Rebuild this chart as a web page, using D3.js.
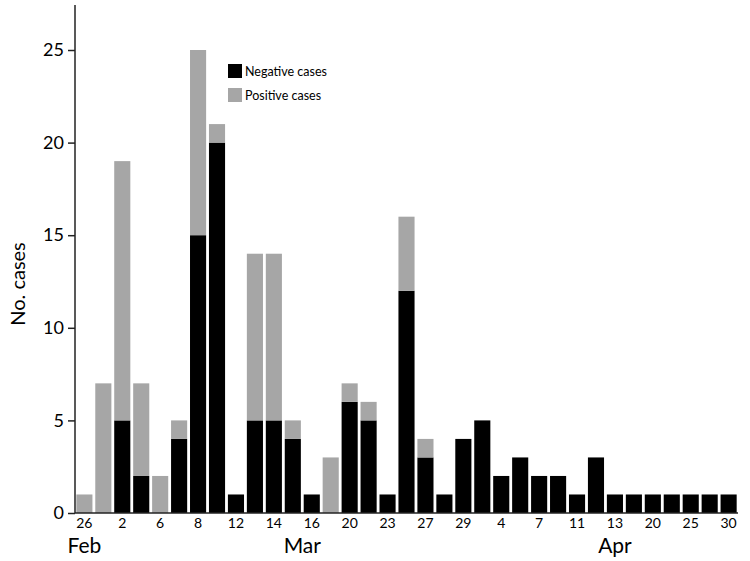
<!DOCTYPE html>
<html>
<head>
<meta charset="utf-8">
<script src="https://cdn.jsdelivr.net/npm/d3@7"></script>
<style>
  body { margin: 0; background: #fff; }
  svg { display: block; font-family: Lato, "Open Sans", sans-serif; }
</style>
</head>
<body>
<svg id="chart" width="750" height="561"></svg>
<script>
// Day labels for each bar (empty = unlabeled bar)
const dayLabels = ["26","","2","","6","","8","","12","","14","","16","","20","","23","","27","","29","","4","","7","","11","","13","","20","","25","","30"];
const negativeCases = [0,0,5,2,0,4,15,20,1,5,5,4,1,0,6,5,1,12,3,1,4,5,2,3,2,2,1,3,1,1,1,1,1,1,1];
const positiveCases = [1,7,14,5,2,1,10,1,0,9,9,1,0,3,1,1,0,4,1,0,0,0,0,0,0,0,0,0,0,0,0,0,0,0,0];
const yTicks = [0,5,10,15,20,25];
const months = [{label:"Feb", at:0, shift:0}, {label:"Mar", at:11, shift:0.5}, {label:"Apr", at:28, shift:0}];
const legendItems = [{label:"Negative cases", color:"#000000"}, {label:"Positive cases", color:"#a6a6a6"}];

const svg = d3.select("#chart");
const x0 = 75, x1 = 738, yBase = 513, yTop = 5;

const x = d3.scaleBand().domain(d3.range(dayLabels.length)).range([x0, x1]).paddingInner(0.15).paddingOuter(0.07);
const y = d3.scaleLinear().domain([0, 27.43]).range([yBase, yTop]);

const data = dayLabels.map((d, i) => ({i, neg: negativeCases[i], pos: positiveCases[i]}));

// bars: negative (bottom, black), positive (stacked, gray)
const g = svg.append("g");
g.selectAll("rect.neg").data(data.filter(d => d.neg > 0)).join("rect")
  .attr("x", d => x(d.i)).attr("width", x.bandwidth())
  .attr("y", d => y(d.neg)).attr("height", d => y(0) - y(d.neg))
  .attr("fill", "#000");
g.selectAll("rect.pos").data(data.filter(d => d.pos > 0)).join("rect")
  .attr("x", d => x(d.i)).attr("width", x.bandwidth())
  .attr("y", d => y(d.neg + d.pos)).attr("height", d => y(d.neg) - y(d.neg + d.pos))
  .attr("fill", "#a6a6a6");

// y axis
const yAxis = svg.append("g").attr("transform", `translate(${x0},0)`)
  .call(d3.axisLeft(y).tickValues(yTicks).tickSize(7).tickPadding(4).tickSizeOuter(0));
yAxis.select(".domain").attr("d", `M0,${yTop}V${yBase}`).attr("stroke", "#222").attr("stroke-width", 1.5);
yAxis.selectAll(".tick line").attr("stroke", "#222").attr("stroke-width", 1.5);
yAxis.selectAll(".tick text").attr("font-size", 18).attr("fill", "#000").attr("font-family", "Lato, sans-serif");

// x axis
const xAxis = svg.append("g").attr("transform", `translate(0,${yBase})`)
  .call(d3.axisBottom(x).tickFormat(i => dayLabels[i]).tickSize(0).tickPadding(5));
xAxis.select(".domain").attr("d", `M${x0},0H${x1}`).attr("stroke", "#222").attr("stroke-width", 1.5);
xAxis.selectAll(".tick text").attr("font-size", 14).attr("fill", "#000").attr("font-family", "Lato, sans-serif");

// month labels
svg.selectAll("text.month").data(months).join("text")
  .attr("class", "month")
  .attr("x", d => x(d.at) + x.bandwidth() / 2 + d.shift * x.step())
  .attr("y", 553)
  .attr("text-anchor", "middle")
  .attr("font-size", 21)
  .text(d => d.label);

// y title
svg.append("text")
  .attr("transform", "translate(25,284) rotate(-90)")
  .attr("text-anchor", "middle")
  .attr("font-size", 20)
  .text("No. cases");

// legend
const leg = svg.append("g").attr("transform", "translate(228,64)");
const li = leg.selectAll("g").data(legendItems).join("g")
  .attr("transform", (d, i) => `translate(0,${i * 24})`);
li.append("rect").attr("width", 14).attr("height", 14).attr("fill", d => d.color);
li.append("text").attr("x", 17).attr("y", 11.5).attr("font-size", 12.5).text(d => d.label);
</script>
</body>
</html>
